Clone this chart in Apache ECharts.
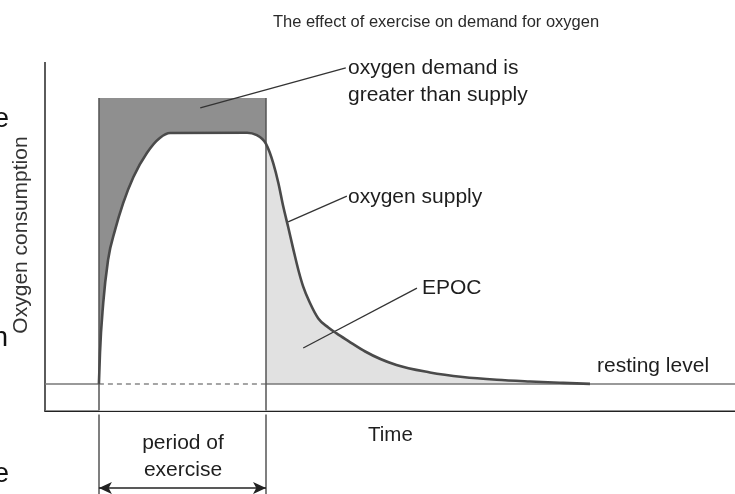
<!DOCTYPE html>
<html>
<head>
<meta charset="utf-8">
<script src="https://cdn.jsdelivr.net/npm/echarts@6/dist/echarts.min.js"></script>
<style>
	html, body { margin: 0; padding: 0; background: #fff; }
	#chart { width: 735px; height: 494px; }
</style>
</head>
<body>
<div id="chart"></div>
<script>
// time runs 0..128, consumption -24..100 (negative part is just room under the axis)
var xMax = 128;
var yMin = -24, yMax = 100;

var exerciseStart = 10;
var exerciseEnd = 41;
var demandLevel = 89.7;
var restingLevel = 7.6;

// oxygen supply curve
var supplyExercise = [
	[10, 7.6], [10.2, 16.5], [10.8, 30.8], [11.7, 43.2], [13.0, 51.8],
	[14.5, 59.5], [16.4, 67.0], [18.9, 73.9], [21.3, 78.2], [23.2, 79.6],
	[37.5, 79.7], [39.3, 79.0], [41, 76.5]
];
var supplyRecovery = [
	[41, 76.5], [42.35, 70.9], [43.3, 65.2], [44.2, 58.5], [45.1, 52.7],
	[46.1, 46.0], [47.0, 40.3], [47.9, 35.5], [49.2, 30.7], [50.7, 26.4],
	[52.55, 23.8], [54.1, 22.1], [56.3, 19.9], [59.4, 16.9], [65.2, 13.0],
	[71.4, 10.9], [77.5, 9.6], [83.8, 8.8], [90.0, 8.3], [96.1, 7.9],
	[101.1, 7.6]
];
var supplyAll = supplyExercise.concat(supplyRecovery.slice(1));
var splitIndex = supplyExercise.length - 1;

// leader lines for the notes: [from, to]
var demandLeader = [[28.8, 86.8], [55.8, 98.3]];
var supplyLeader = [[45.1, 54.1], [56.0, 61.5]];
var epocLeader = [[47.9, 17.9], [69.0, 35.1]];
var arrowLevel = -22.3;

var FONT = '"Liberation Sans", Arial, Helvetica, sans-serif';
var INK = '#1e1e1e';

// monotone cubic tangents (same idea as d3 monotoneX), pixel space
function tangents(pts) {
	var n = pts.length, s = [], h = [], m = [];
	for (var i = 0; i < n - 1; i++) {
		h[i] = pts[i + 1][0] - pts[i][0];
		s[i] = (pts[i + 1][1] - pts[i][1]) / h[i];
	}
	for (var i = 1; i < n - 1; i++) {
		var p = (s[i - 1] * h[i] + s[i] * h[i - 1]) / (h[i - 1] + h[i]);
		var sg = (Math.sign(s[i - 1]) + Math.sign(s[i]));
		m[i] = sg * Math.min(Math.abs(s[i - 1]), Math.abs(s[i]), 0.5 * Math.abs(p)) || 0;
	}
	m[0] = (3 * s[0] - m[1]) / 2;
	m[n - 1] = (3 * s[n - 2] - m[n - 2]) / 2;
	return m;
}

function supplyPath(api, from, to, baseValue) {
	var pts = supplyAll.map(function (p) { return api.coord(p); });
	var m = tangents(pts);
	var d = 'M' + pts[from][0] + ',' + pts[from][1];
	for (var i = from; i < to; i++) {
		var a = pts[i], b = pts[i + 1], k = (b[0] - a[0]) / 3;
		d += ' C' + (a[0] + k) + ',' + (a[1] + m[i] * k) + ' ' +
			(b[0] - k) + ',' + (b[1] - m[i + 1] * k) + ' ' + b[0] + ',' + b[1];
	}
	if (baseValue != null) {
		var y0 = api.coord([0, baseValue])[1];
		d += ' L' + pts[to][0] + ',' + y0 + ' L' + pts[from][0] + ',' + y0 + ' Z';
	}
	return d;
}

function curveSeries(z, from, to, baseValue, style) {
	return {
		type: 'custom', z: z, silent: true, clip: false,
		data: [[0, 0]],
		renderItem: function (params, api) {
			return { type: 'path', shape: { pathData: supplyPath(api, from, to, baseValue) }, style: style };
		}
	};
}

function seg(a, b, style, extra) {
	var from = { coord: a, lineStyle: style };
	var to = { coord: b };
	if (extra) {
		from.symbol = extra; to.symbol = extra;
		from.symbolSize = [9, 13]; to.symbolSize = [9, 13];
	}
	return [from, to];
}

var thin = { color: '#333', width: 1.3, type: 'solid' };
var rest = { color: '#777', width: 1.6, type: 'solid' };
var restDash = { color: '#888', width: 1.6, type: [5, 4] };
var edge = { color: '#555', width: 1.5, type: 'solid' };
var yLine = { color: '#333', width: 1.6, type: 'solid' };

var chart = echarts.init(document.getElementById('chart'));

chart.setOption({
	animation: false,
	backgroundColor: '#fff',
	grid: { left: 45, right: 0, top: 62, bottom: 0 },
	xAxis: {
		type: 'value', min: 0, max: xMax,
		axisLine: { show: true, onZero: true, lineStyle: { color: '#222', width: 2 } },
		axisTick: { show: false }, axisLabel: { show: false }, splitLine: { show: false }
	},
	yAxis: {
		type: 'value', min: yMin, max: yMax,
		axisLine: { show: false }, axisTick: { show: false },
		axisLabel: { show: false }, splitLine: { show: false }
	},
	series: [
		{
			// demand during exercise
			type: 'line', z: 1, symbol: 'none', silent: true,
			data: [[exerciseStart, demandLevel], [exerciseEnd, demandLevel]],
			lineStyle: { width: 0 },
			areaStyle: { color: '#8f8f8f', opacity: 1 }
		},
		curveSeries(2, 0, splitIndex, 0, { fill: '#fff' }),
		// EPOC
		curveSeries(2, splitIndex, supplyAll.length - 1, 0, { fill: '#e1e1e1' }),
		{
			// blank strip under resting level
			type: 'line', z: 3, symbol: 'none', silent: true,
			data: [[0, restingLevel], [xMax, restingLevel]],
			lineStyle: { width: 0 },
			areaStyle: { color: '#fff', opacity: 1 }
		},
		curveSeries(6, 0, supplyAll.length - 1, null, { fill: null, stroke: '#4a4a4a', lineWidth: 2.6 }),
		{
			type: 'line', z: 5, symbol: 'none', silent: true,
			data: [],
			markLine: {
				silent: true, symbol: 'none', animation: false,
				label: { show: false },
				data: [
					seg([0, 0], [0, yMax], yLine),
					seg([0, restingLevel], [exerciseStart, restingLevel], rest),
					seg([exerciseStart, restingLevel], [exerciseEnd, restingLevel], restDash),
					seg([exerciseEnd, restingLevel], [xMax, restingLevel], rest),
					seg([exerciseStart, demandLevel], [exerciseStart, 0], edge),
					seg([exerciseEnd, demandLevel], [exerciseEnd, 0], edge),
					seg([exerciseStart, -1.2], [exerciseStart, yMin], edge),
					seg([exerciseEnd, -1.2], [exerciseEnd, yMin], edge),
					seg([exerciseStart, arrowLevel], [exerciseEnd, arrowLevel], { color: '#222', width: 1.6, type: 'solid' }, 'arrow'),
					seg(demandLeader[0], demandLeader[1], thin),
					seg(supplyLeader[0], supplyLeader[1], thin),
					seg(epocLeader[0], epocLeader[1], thin)
				]
			}
		}
	],
	graphic: [
		{ type: 'text', x: 436, y: 22, style: { text: 'The effect of exercise on demand for oxygen', font: '16.5px ' + FONT, fill: '#2a2a2a', textAlign: 'center', textVerticalAlign: 'middle' } },
		{ type: 'text', x: 348, y: 81.5, style: { text: 'oxygen demand is\ngreater than supply', font: '21px ' + FONT, lineHeight: 27, fill: INK, textAlign: 'left', textVerticalAlign: 'middle' } },
		{ type: 'text', x: 348, y: 197, style: { text: 'oxygen supply', font: '21px ' + FONT, fill: INK, textAlign: 'left', textVerticalAlign: 'middle' } },
		{ type: 'text', x: 422, y: 288, style: { text: 'EPOC', font: '21px ' + FONT, fill: INK, textAlign: 'left', textVerticalAlign: 'middle' } },
		{ type: 'text', x: 597, y: 366, style: { text: 'resting level', font: '21px ' + FONT, fill: INK, textAlign: 'left', textVerticalAlign: 'middle' } },
		{ type: 'text', x: 368, y: 435, style: { text: 'Time', font: '20.5px ' + FONT, fill: INK, textAlign: 'left', textVerticalAlign: 'middle' } },
		{ type: 'text', x: 183, y: 456.5, style: { text: 'period of\nexercise', font: '21px ' + FONT, lineHeight: 27, fill: INK, textAlign: 'center', textVerticalAlign: 'middle' } },
		{ type: 'text', x: 21, y: 235, rotation: Math.PI / 2, style: { text: 'Oxygen consumption', font: '21px ' + FONT, fill: '#333', textAlign: 'center', textVerticalAlign: 'middle' } },
		// bits of page text cut off at the left edge
		{ type: 'text', x: 9, y: 119, style: { text: 'e', font: '28px ' + FONT, fill: '#111', textAlign: 'right', textVerticalAlign: 'middle' } },
		{ type: 'text', x: 8, y: 338, style: { text: 'n', font: '28px ' + FONT, fill: '#111', textAlign: 'right', textVerticalAlign: 'middle' } },
		{ type: 'text', x: 9, y: 474, style: { text: 'e', font: '28px ' + FONT, fill: '#111', textAlign: 'right', textVerticalAlign: 'middle' } }
	]
});
</script>
</body>
</html>
